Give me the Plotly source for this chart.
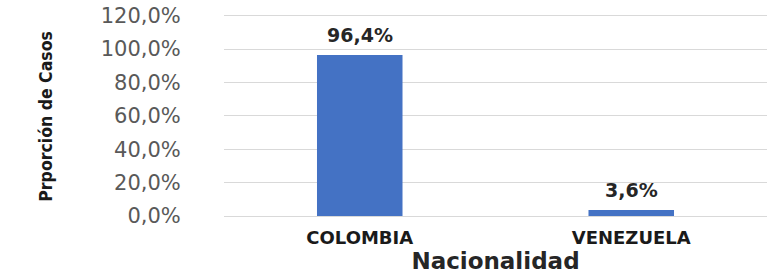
import plotly.graph_objects as go

categories = ["COLOMBIA", "VENEZUELA"]
values = [0.964, 0.036]
y_ticks = [0, 0.2, 0.4, 0.6, 0.8, 1.0, 1.2]

def pct(v):
    return f"{v * 100:.1f}%".replace(".", ",")

fig = go.Figure()
fig.add_trace(go.Bar(
    x=categories, y=values,
    marker=dict(color="#4472C4", line=dict(width=0)),
    hoverinfo="skip",
))

annotations = [dict(
    x=c, y=v, xref="x", yref="y", text=pct(v), showarrow=False,
    xanchor="center", yanchor="bottom", yshift=7,
    font=dict(family="DejaVu Sans", size=19, color="#262626", weight="bold"),
) for c, v in zip(categories, values)]

annotations.append(dict(
    text="Prporción de Casos", textangle=-90,
    xref="paper", yref="paper", x=(45 - 223.5) / 544, y=0.4957,
    xanchor="center", yanchor="middle", showarrow=False,
    font=dict(family="DejaVu Sans Condensed", size=17.5, color="#1a1a1a", weight="bold"),
))

fig.update_layout(
    width=777, height=277,
    margin=dict(l=223.5, r=9.5, t=13.6, b=61, autoexpand=False),
    plot_bgcolor="white", paper_bgcolor="white",
    separators=",.",
    bargap=0.685,
    showlegend=False,
    font=dict(family="DejaVu Sans"),
    xaxis=dict(
        automargin=False,
        showgrid=False, showline=False, zeroline=False,
        tickfont=dict(family="DejaVu Sans", size=18, color="#1a1a1a", weight="bold"),
        ticks="outside", ticklen=0, tickcolor="white",
        ticklabelstandoff=5,
        title=dict(text="Nacionalidad", font=dict(family="DejaVu Sans", size=23, color="#262626", weight="bold"), standoff=6),
    ),
    yaxis=dict(
        automargin=False,
        range=[0, 1.21], tickvals=y_ticks, tickformat=".1%",
        showgrid=True, gridcolor="#D9D9D9", gridwidth=1.3,
        zeroline=True, zerolinecolor="#D9D9D9", zerolinewidth=1.3,
        showline=False,
        tickfont=dict(family="DejaVu Sans", size=21, color="#595959"),
        ticks="outside", ticklen=0, tickcolor="white",
        ticklabelstandoff=38,
    ),
    annotations=annotations,
)

fig.write_html("out.html", config={"displayModeBar": False},
               post_script="document.body.style.margin='0';")
